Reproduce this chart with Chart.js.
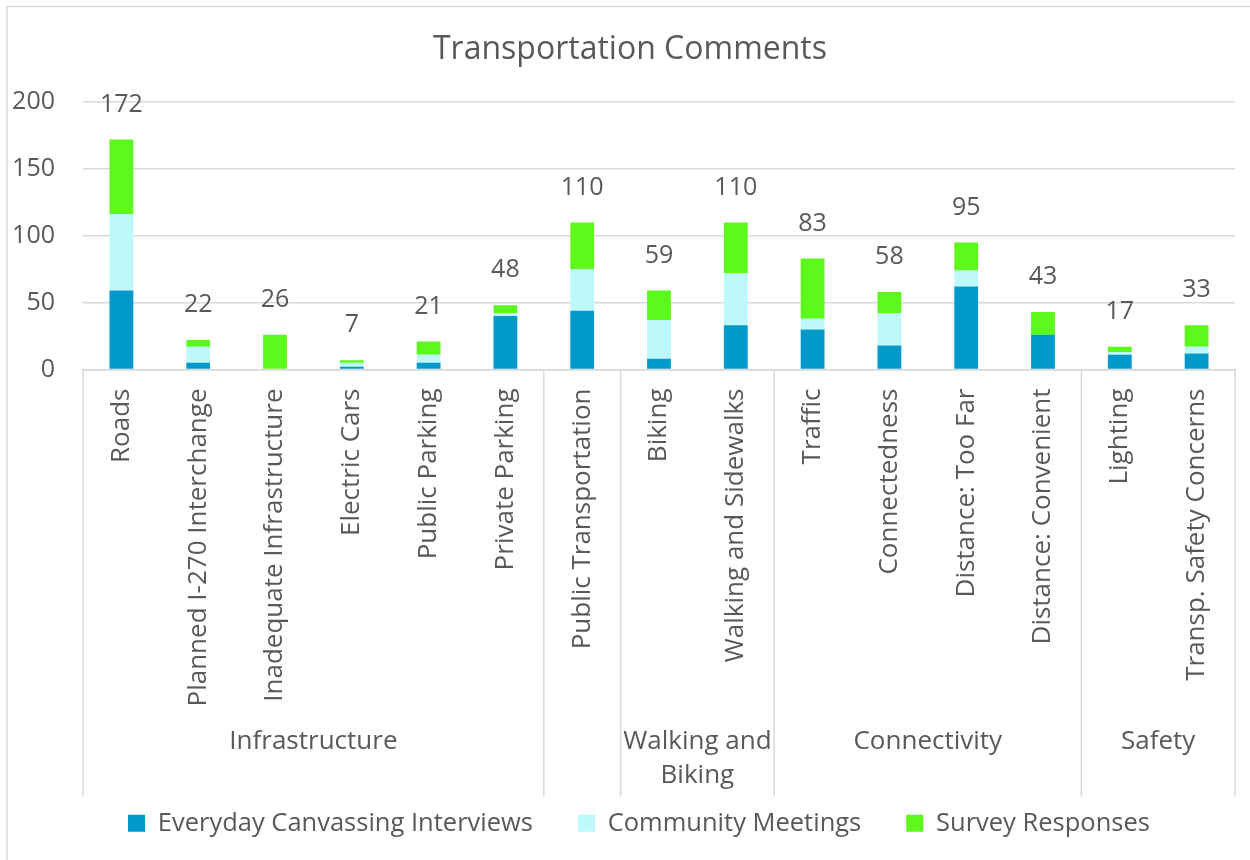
<!DOCTYPE html>
<html>
<head>
<meta charset="utf-8">
<title>Transportation Comments</title>
<script src="https://cdn.jsdelivr.net/npm/chart.js@4"></script>
<style>
  html, body { margin: 0; padding: 0; background: #fff; }
  #wrap { width: 1250px; height: 860px; position: relative; }
</style>
</head>
<body>
<div id="wrap"><canvas id="grafico"></canvas></div>
<script>
const titulo = 'Transportation Comments';

const categorias = [
    'Roads', 'Planned I-270 Interchange', 'Inadequate Infrastructure', 'Electric Cars',
    'Public Parking', 'Private Parking', 'Public Transportation', 'Biking',
    'Walking and Sidewalks', 'Traffic', 'Connectedness', 'Distance: Too Far',
    'Distance: Convenient', 'Lighting', 'Transp. Safety Concerns'
];

const grupos = ['Infrastructure', '', ['Walking and', 'Biking'], 'Connectivity', 'Safety'];
const tamanhos_grupos = [6, 1, 2, 4, 2];

const everyday = [59, 5, 0, 2, 5, 40, 44, 8, 33, 30, 18, 62, 26, 11, 12];
const community = [57, 12, 0, 3, 6, 2, 31, 29, 39, 8, 24, 12, 0, 2, 5];
const survey = [56, 5, 26, 2, 10, 6, 35, 22, 38, 45, 16, 21, 17, 4, 16];

const ticks_y = [0, 50, 100, 150, 200];

const cor_texto = '#595959';
const cor_linha = '#d9d9d9';
const fonte = "'Open Sans', 'DejaVu Sans', sans-serif";

// border, title, totals above each stacked bar, group labels and separators under the axis
const extras = {
    id: 'extras',
    beforeDraw(chart) {
        const ctx = chart.ctx;
        ctx.save();
        ctx.strokeStyle = cor_linha;
        ctx.lineWidth = 1.5;
        ctx.beginPath();
        ctx.moveTo(7, 860);
        ctx.lineTo(7, 6.5);
        ctx.lineTo(1250, 6.5);
        ctx.stroke();
        ctx.restore();
    },
    afterDraw(chart) {
        const ctx = chart.ctx;
        const x = chart.scales.x;
        const y = chart.scales.y;
        const area = chart.chartArea;
        ctx.save();
        ctx.fillStyle = cor_texto;
        ctx.textAlign = 'center';
        ctx.textBaseline = 'middle';

        ctx.font = '32px ' + fonte;
        ctx.fillText(titulo, 630, area.top - 52);

        ctx.font = '25px ' + fonte;
        categorias.forEach((c, i) => {
            const total = everyday[i] + community[i] + survey[i];
            ctx.fillText(String(total), x.getPixelForValue(i), y.getPixelForValue(total) - 35);
        });

        const limite = (i) => {
            if (i <= 0) return x.left;
            if (i >= categorias.length) return x.right;
            return (x.getPixelForValue(i - 1) + x.getPixelForValue(i)) / 2;
        };
        ctx.font = '26px ' + fonte;
        ctx.strokeStyle = cor_linha;
        ctx.lineWidth = 1.5;
        let inicio = 0;
        const fundo = area.bottom + 427;
        ctx.beginPath();
        ctx.moveTo(limite(0), area.bottom);
        ctx.lineTo(limite(0), fundo);
        tamanhos_grupos.forEach((n, g) => {
            const fim = inicio + n;
            const xa = limite(inicio), xb = limite(fim);
            ctx.moveTo(xb, area.bottom);
            ctx.lineTo(xb, fundo);
            const linhas = Array.isArray(grupos[g]) ? grupos[g] : [grupos[g]];
            linhas.forEach((t, k) => {
                ctx.fillText(t, (xa + xb) / 2, area.bottom + 372 + k * 34);
            });
            inicio = fim;
        });
        ctx.stroke();
        ctx.restore();
    }
};

const grafico = new Chart(document.getElementById('grafico'), {
    type: 'bar',
    data: {
        labels: categorias,
        datasets: [
            { label: 'Everyday Canvassing Interviews', data: everyday, backgroundColor: '#0099cc' },
            { label: 'Community Meetings', data: community, backgroundColor: '#bdf8fb' },
            { label: 'Survey Responses', data: survey, backgroundColor: '#5df81c' }
        ]
    },
    options: {
        responsive: true,
        maintainAspectRatio: false,
        animation: false,
        datasets: {
            bar: { categoryPercentage: 1, barPercentage: 0.31 }
        },
        layout: {
            padding: { left: 0, right: 15, top: 102, bottom: 14 }
        },
        plugins: {
            title: { display: false },
            legend: {
                position: 'bottom',
                fullSize: false,
                align: 'start',
                labels: {
                    color: cor_texto,
                    font: { family: fonte, size: 25.5 },
                    boxWidth: 17,
                    boxHeight: 17,
                    padding: 45
                }
            },
            tooltip: { enabled: false }
        },
        scales: {
            x: {
                stacked: true,
                grid: { display: false },
                border: { color: cor_linha, width: 1.5 },
                ticks: {
                    color: cor_texto,
                    font: { family: fonte, size: 26 },
                    minRotation: 90,
                    maxRotation: 90,
                    autoSkip: false,
                    padding: 11
                },
                afterFit: (scale) => { scale.height = 396; }
            },
            y: {
                stacked: true,
                min: 0,
                max: 200,
                afterBuildTicks: (scale) => { scale.ticks = ticks_y.map(v => ({ value: v })); },
                grid: { color: cor_linha, lineWidth: 1.5, drawTicks: false },
                border: { display: false },
                ticks: {
                    color: cor_texto,
                    font: { family: fonte, size: 25 },
                    padding: 28
                },
                afterFit: (scale) => { scale.width = 83; }
            }
        }
    },
    plugins: [extras]
});
</script>
</body>
</html>
